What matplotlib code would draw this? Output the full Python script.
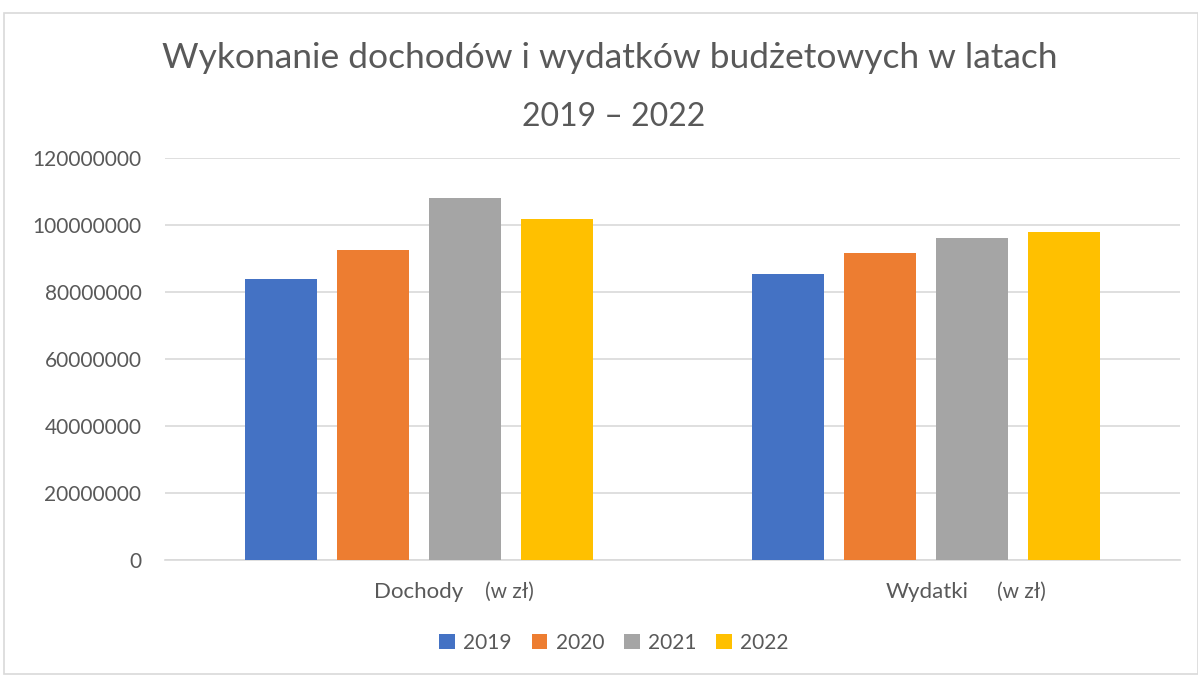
import matplotlib
matplotlib.use("Agg")
import matplotlib.pyplot as plt
from matplotlib.patches import Rectangle
import numpy as np

categories = ["Dochody", "Wydatki"]
years = ["2019", "2020", "2021", "2022"]
values = {
    "2019": [83900000, 85400000],
    "2020": [92400000, 91600000],
    "2021": [108000000, 96200000],
    "2022": [101700000, 98000000],
}
colors = ["#4472C4", "#ED7D31", "#A5A5A5", "#FFC000"]
yticks = [0, 20000000, 40000000, 60000000, 80000000, 100000000, 120000000]

plt.rcParams['font.family'] = ['Lato', 'DejaVu Sans']
txt = "#595959"

fig = plt.figure(figsize=(11.98, 6.75), dpi=100)
fig.patches.append(Rectangle((4/1198, 0.002), 1 - 4/1198, 1 - 13/675 - 0.002,
                             transform=fig.transFigure, fill=False,
                             edgecolor="#d9d9d9", linewidth=1.2))
ax = fig.add_axes([165/1198, 1 - 560/675, (1180 - 165)/1198, (560 - 158)/675])

x = np.arange(len(categories))
bw = 0.142
step = 0.181
for i, (y, c) in enumerate(zip(years, colors)):
    ax.bar(x + (i - 1.5) * step, values[y], width=bw, color=c, label=y, zorder=3)

ax.set_xlim(-0.5, 1.5)
ax.set_ylim(0, 120000000)
ax.set_yticks(yticks)
ax.set_yticklabels([str(v) for v in yticks], fontsize=15, color=txt)
ax.tick_params(axis='y', length=0, pad=17)
ax.set_xticks([])
ax.grid(axis='y', color="#d9d9d9", linewidth=1.2, zorder=0)
for s in ["top", "right", "left"]:
    ax.spines[s].set_visible(False)
ax.spines["bottom"].set_color("#d9d9d9")
ax.spines["bottom"].set_linewidth(1.2)

offsets_px = [(44, 66), (42, 71)]
for xi, name, (o1, o2) in zip(x, categories, offsets_px):
    ax.annotate(name, xy=(xi, 0), xycoords=('data', 'axes fraction'),
                xytext=(o1 * 0.72, -23), textcoords='offset points',
                ha='right', va='center', fontsize=16, color=txt)
    ax.annotate("(w zł)", xy=(xi, 0), xycoords=('data', 'axes fraction'),
                xytext=(o2 * 0.72, -23), textcoords='offset points',
                ha='left', va='center', fontsize=15, color=txt)

fig.text(610/1198, 1 - 58/675, "Wykonanie dochodów i wydatków budżetowych w latach",
         ha='center', va='center', fontsize=25.5, color=txt)
fig.text(614/1198, 1 - 117/675, "2019 – 2022",
         ha='center', va='center', fontsize=23, color=txt)

leg = fig.legend(loc='center', bbox_to_anchor=(614/1198, 1 - 643/675), ncol=4,
                 frameon=False, fontsize=15, handlelength=0.75, handleheight=0.75,
                 handletextpad=0.4, columnspacing=0.95, labelcolor=txt)

fig.savefig("out.png", dpi=100)
